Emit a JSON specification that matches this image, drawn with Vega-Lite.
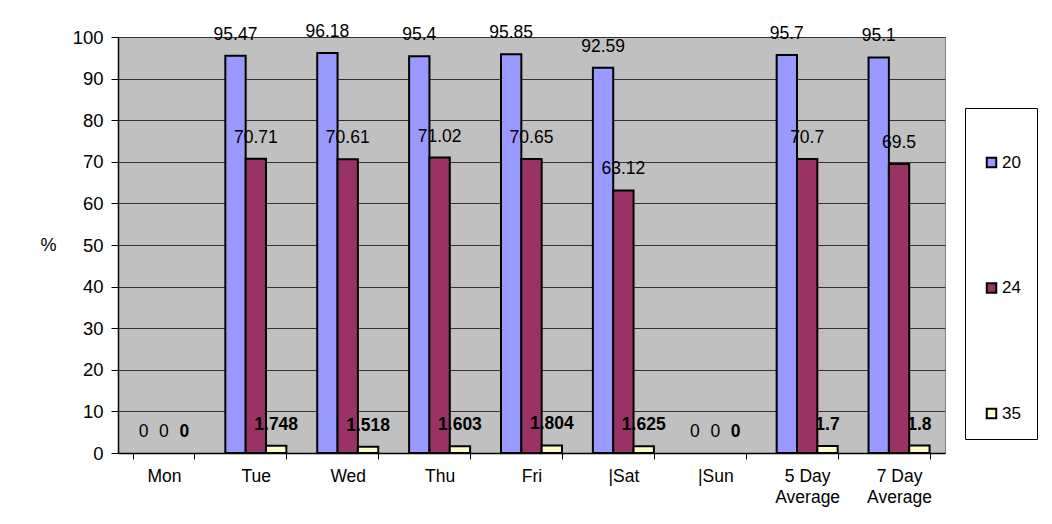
{
  "$schema": "https://vega.github.io/schema/vega-lite/v6.json",
  "width": 827,
  "height": 416,
  "autosize": {"type": "none"},
  "padding": {"left": 118, "top": 37, "right": 107, "bottom": 71},
  "background": "white",
  "config": {
    "font": "Liberation Sans",
    "view": {"fill": "#C0C0C0", "stroke": "#808080", "strokeWidth": 1}
  },
  "data": {
    "values": [
      {"day": "Mon", "series": "20", "value": 0, "label": "0"},
      {"day": "Mon", "series": "24", "value": 0, "label": "0"},
      {"day": "Mon", "series": "35", "value": 0, "label": "0"},
      {"day": "Tue", "series": "20", "value": 95.47, "label": "95.47"},
      {"day": "Tue", "series": "24", "value": 70.71, "label": "70.71"},
      {"day": "Tue", "series": "35", "value": 1.748, "label": "1.748"},
      {"day": "Wed", "series": "20", "value": 96.18, "label": "96.18"},
      {"day": "Wed", "series": "24", "value": 70.61, "label": "70.61"},
      {"day": "Wed", "series": "35", "value": 1.518, "label": "1.518"},
      {"day": "Thu", "series": "20", "value": 95.4, "label": "95.4"},
      {"day": "Thu", "series": "24", "value": 71.02, "label": "71.02"},
      {"day": "Thu", "series": "35", "value": 1.603, "label": "1.603"},
      {"day": "Fri", "series": "20", "value": 95.85, "label": "95.85"},
      {"day": "Fri", "series": "24", "value": 70.65, "label": "70.65"},
      {"day": "Fri", "series": "35", "value": 1.804, "label": "1.804"},
      {"day": "|Sat", "series": "20", "value": 92.59, "label": "92.59"},
      {"day": "|Sat", "series": "24", "value": 63.12, "label": "63.12"},
      {"day": "|Sat", "series": "35", "value": 1.625, "label": "1.625"},
      {"day": "|Sun", "series": "20", "value": 0, "label": "0"},
      {"day": "|Sun", "series": "24", "value": 0, "label": "0"},
      {"day": "|Sun", "series": "35", "value": 0, "label": "0"},
      {"day": "5 Day Average", "series": "20", "value": 95.7, "label": "95.7"},
      {"day": "5 Day Average", "series": "24", "value": 70.7, "label": "70.7"},
      {"day": "5 Day Average", "series": "35", "value": 1.7, "label": "1.7"},
      {"day": "7 Day Average", "series": "20", "value": 95.1, "label": "95.1"},
      {"day": "7 Day Average", "series": "24", "value": 69.5, "label": "69.5"},
      {"day": "7 Day Average", "series": "35", "value": 1.8, "label": "1.8"}
    ]
  },
  "encoding": {
    "x": {
      "field": "day",
      "type": "nominal",
      "sort": ["Mon", "Tue", "Wed", "Thu", "Fri", "|Sat", "|Sun", "5 Day Average", "7 Day Average"],
      "scale": {"paddingInner": 0.336, "paddingOuter": 0.168},
      "axis": {
        "title": null,
        "labelAngle": 0,
        "labelFontSize": 17.5,
        "labelColor": "black",
        "labelPadding": 8,
        "labelLineHeight": 21,
        "labelExpr": "datum.value == '5 Day Average' ? ['5 Day', 'Average'] : datum.value == '7 Day Average' ? ['7 Day', 'Average'] : datum.value",
        "tickBand": "extent",
        "tickSize": 6,
        "tickColor": "black",
        "domainColor": "black",
        "domainWidth": 1.5,
        "grid": false
      }
    },
    "xOffset": {"field": "series", "type": "nominal", "scale": {"domain": ["20", "24", "35"], "paddingInner": 0}},
    "y": {
      "field": "value",
      "type": "quantitative",
      "scale": {"domain": [0, 100], "nice": false},
      "axis": {
        "title": "%",
        "titleAngle": 0,
        "titleFontSize": 18,
        "titleFontWeight": "normal",
        "titleX": -70,
        "titleY": 208,
        "titleAlign": "center",
        "titleBaseline": "middle",
        "values": [0, 10, 20, 30, 40, 50, 60, 70, 80, 90, 100],
        "labelFontSize": 18.5,
        "labelColor": "black",
        "labelPadding": 8,
        "tickSize": 7,
        "tickColor": "black",
        "domainColor": "black",
        "domainWidth": 1.5,
        "grid": true,
        "gridColor": "#333333",
        "gridWidth": 1
      }
    }
  },
  "layer": [
    {
      "mark": {"type": "bar", "stroke": "black"},
      "encoding": {
        "strokeWidth": {"condition": {"test": "datum.value == 0", "value": 0}, "value": 2},
        "color": {
          "field": "series",
          "type": "nominal",
          "scale": {"domain": ["20", "24", "35"], "range": ["#9999FF", "#993366", "#FFFFCC"]},
          "legend": {
            "orient": "none",
            "legendX": 847,
            "legendY": 71,
            "title": "            ",
            "titleFontSize": 14,
            "titlePadding": 16,
            "padding": 16,
            "symbolOffset": 2,
            "strokeColor": "black",
            "fillColor": "white",
            "symbolType": "square",
            "symbolSize": 90,
            "symbolStrokeColor": "black",
            "symbolStrokeWidth": 2,
            "symbolOpacity": 1,
            "labelFontSize": 17,
            "labelColor": "black",
            "labelOffset": 2,
            "rowPadding": 106.5
          }
        }
      }
    },
    {
      "transform": [{"filter": "datum.series != '35'"}],
      "mark": {"type": "text", "baseline": "alphabetic", "dy": -16, "fontSize": 17.5, "color": "black"},
      "encoding": {"text": {"field": "label"}}
    },
    {
      "transform": [{"filter": "datum.series == '35'"}],
      "mark": {"type": "text", "baseline": "alphabetic", "dy": -16, "fontSize": 17.5, "fontWeight": "bold", "color": "black"},
      "encoding": {"text": {"field": "label"}}
    }
  ]
}
